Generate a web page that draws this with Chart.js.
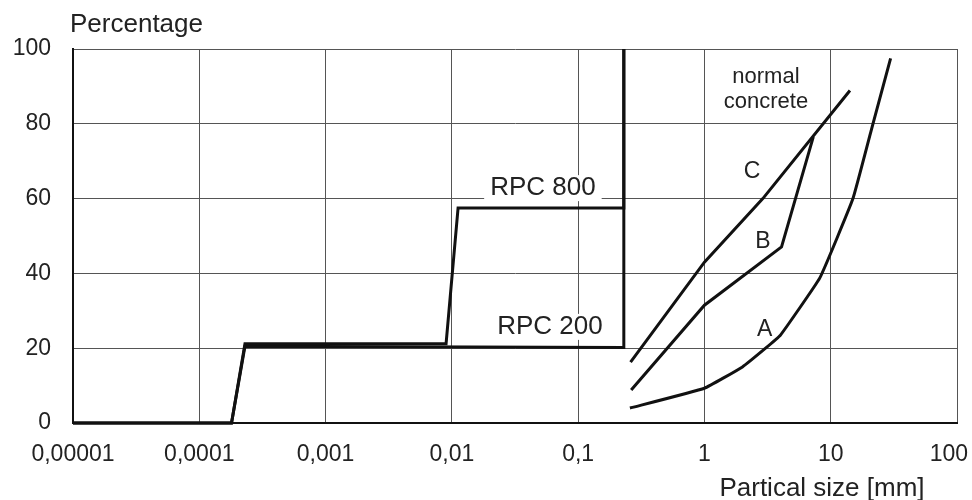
<!DOCTYPE html>
<html>
<head>
<meta charset="utf-8">
<style>
  html, body { margin: 0; padding: 0; background: #fff; }
  #wrap { width: 972px; height: 500px; }
</style>
<script src="https://cdn.jsdelivr.net/npm/chart.js@4/dist/chart.umd.min.js"></script>
</head>
<body>
<div id="wrap"><canvas id="grading"></canvas></div>
<script>
// Grading curves, x = particle size in mm (log), y = percentage passing

const tickValues = [0.00001, 0.0001, 0.001, 0.01, 0.1, 1, 10, 100];
const tickLabels = ['0,00001', '0,0001', '0,001', '0,01', '0,1', '1', '10', '100'];

const rpc800X = [0.00001, 0.00018, 0.00023, 0.009, 0.0112, 0.23, 0.23];
const rpc800Y = [0, 0, 21.2, 21.2, 57.5, 57.5, 100];

const rpc200X = [0.00001, 0.00018, 0.00023, 0.23, 0.23];
const rpc200Y = [0, 0, 20.5, 20.2, 100];

const curveAX = [0.257, 1, 2, 3, 4, 8.2, 15, 21.6, 29.8];
const curveAY = [4, 9.3, 15, 19.8, 23.5, 38.8, 60, 80, 97.5];

const curveBX = [0.263, 1, 4.08, 7.28];
const curveBY = [8.8, 31.5, 47.1, 76.5];

const curveCX = [0.26, 1, 2.9, 14.2];
const curveCY = [16.3, 43, 60, 88.9];

// text notes placed in data coordinates
const notes = [
  { text: 'RPC 800', x: 0.0526, y: 62.8, size: 26 },
  { text: 'RPC 200', x: 0.0598, y: 25.7, size: 26 },
  { text: 'normal', x: 3.07, y: 92.5, size: 22 },
  { text: 'concrete', x: 3.07, y: 85.8, size: 22 },
  { text: 'C', x: 2.38, y: 67.1, size: 23 },
  { text: 'B', x: 2.9, y: 48.4, size: 23 },
  { text: 'A', x: 3.0, y: 24.9, size: 23 }
];

const FONT = '"Liberation Sans", Arial, sans-serif';
const pts = (xs, ys) => xs.map((x, i) => ({ x: x, y: ys[i] }));

const lineStyle = {
  showLine: true,
  pointRadius: 0,
  borderColor: '#111',
  borderWidth: 3,
  tension: 0,
  clip: false
};

const notesPlugin = {
  id: 'notes',
  beforeDatasetsDraw(chart) {
    const ctx = chart.ctx;
    const xs = chart.scales.x, ys = chart.scales.y;
    ctx.save();
    ctx.textAlign = 'center';
    ctx.textBaseline = 'middle';
    notes.forEach(n => {
      ctx.font = n.size + 'px ' + FONT;
      const px = xs.getPixelForValue(n.x);
      const py = ys.getPixelForValue(n.y);
      const w = ctx.measureText(n.text).width;
      ctx.fillStyle = '#fff';
      ctx.fillRect(px - w / 2 - 6, py - n.size / 2, w + 12, n.size);
      ctx.fillStyle = '#222';
      ctx.fillText(n.text, px, py);
    });
    ctx.restore();
  },
  afterDraw(chart) {
    const ctx = chart.ctx;
    const area = chart.chartArea;
    const xs = chart.scales.x;
    ctx.save();
    ctx.fillStyle = '#222';

    // x tick labels, kept inside the canvas at the right end
    ctx.font = '23px ' + FONT;
    ctx.textAlign = 'center';
    ctx.textBaseline = 'middle';
    tickValues.forEach((v, i) => {
      const w = ctx.measureText(tickLabels[i]).width;
      let px = xs.getPixelForValue(v);
      px = Math.min(px, chart.width - 4 - w / 2);
      ctx.fillText(tickLabels[i], px, area.bottom + 32);
    });

    ctx.font = '26px ' + FONT;
    ctx.textBaseline = 'alphabetic';
    ctx.textAlign = 'left';
    ctx.fillText('Percentage', area.left - 3, 32);
    ctx.textAlign = 'center';
    ctx.fillText('Partical size [mm]', 822, 496);
    ctx.restore();
  }
};

new Chart(document.getElementById('grading'), {
  type: 'scatter',
  data: {
    datasets: [
      Object.assign({ label: 'RPC 800', data: pts(rpc800X, rpc800Y) }, lineStyle),
      Object.assign({ label: 'RPC 200', data: pts(rpc200X, rpc200Y) }, lineStyle),
      Object.assign({ label: 'A', data: pts(curveAX, curveAY) }, lineStyle, { tension: 0.1 }),
      Object.assign({ label: 'B', data: pts(curveBX, curveBY) }, lineStyle),
      Object.assign({ label: 'C', data: pts(curveCX, curveCY) }, lineStyle)
    ]
  },
  options: {
    responsive: true,
    maintainAspectRatio: false,
    animation: false,
    layout: { padding: { top: 49, right: 15, left: 0, bottom: 0 } },
    plugins: {
      legend: { display: false },
      tooltip: { enabled: false }
    },
    scales: {
      x: {
        type: 'logarithmic',
        min: 0.00001,
        max: 100,
        afterBuildTicks: scale => {
          scale.ticks = tickValues.map(v => ({ value: v }));
        },
        afterFit: scale => {
          scale.height = 77;
          scale.paddingRight = 0;
          scale.paddingLeft = 0;
        },
        ticks: { display: false },
        grid: { color: '#555', lineWidth: 1, drawTicks: false },
        border: { color: '#111', width: 2 }
      },
      y: {
        min: 0,
        max: 100,
        afterFit: scale => { scale.width = 73; },
        ticks: {
          stepSize: 20,
          padding: 22,
          color: '#222',
          font: { family: FONT, size: 23 }
        },
        grid: { color: '#555', lineWidth: 1, drawTicks: false },
        border: { color: '#111', width: 2 }
      }
    }
  },
  plugins: [notesPlugin]
});
</script>
</body>
</html>
